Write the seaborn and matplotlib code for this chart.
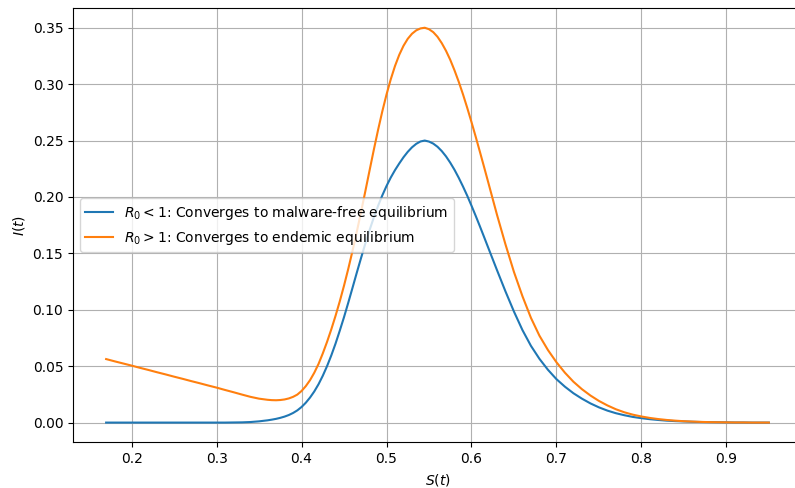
import matplotlib
matplotlib.use("Agg")
import matplotlib.pyplot as plt
import seaborn as sns
import pandas as pd

# Susceptible fraction S(t) sampled along both phase trajectories
# (denser sampling where the curves bend most)
s_values = [
    0.17, 0.18, 0.19, 0.20, 0.21, 0.22, 0.23, 0.24, 0.25, 0.26,
    0.27, 0.28, 0.29, 0.30, 0.31, 0.32, 0.33, 0.34, 0.35,
    0.360, 0.365, 0.370, 0.375, 0.380, 0.385, 0.390, 0.395, 0.400,
    0.405, 0.410, 0.415, 0.420, 0.425, 0.430, 0.435, 0.440, 0.445, 0.450,
    0.455, 0.460, 0.465, 0.470, 0.475, 0.480, 0.485, 0.490, 0.495, 0.500,
    0.505, 0.510, 0.515, 0.520, 0.525, 0.530, 0.535, 0.540, 0.545, 0.550,
    0.555, 0.560, 0.565, 0.570, 0.575, 0.580, 0.585, 0.590, 0.595, 0.600,
    0.605, 0.610, 0.615, 0.620,
    0.63, 0.64, 0.65, 0.66, 0.67, 0.68, 0.69, 0.70, 0.71, 0.72,
    0.73, 0.74, 0.75, 0.76, 0.77, 0.78, 0.79, 0.80, 0.81, 0.82,
    0.83, 0.84, 0.85, 0.86, 0.87, 0.88, 0.89, 0.90, 0.91, 0.92,
    0.93, 0.94, 0.95,
]

# Infected fraction I(t), R0 < 1 trajectory
i_malware_free = [
    0.0, 0.0, 0.0, 0.0, 0.0, 0.0, 0.0, 0.0, 0.0, 0.0,
    0.0, 0.0, 0.0, 0.0, 0.0, 0.0001, 0.0002, 0.0005, 0.0011,
    0.0020, 0.0026, 0.0033, 0.0042, 0.0053, 0.0067, 0.0085, 0.0108, 0.0138,
    0.0176, 0.0222, 0.0276, 0.0340, 0.0415, 0.0500, 0.0595, 0.0700, 0.0815, 0.0935,
    0.1063, 0.1195, 0.1328, 0.1458, 0.1585, 0.1705, 0.1817, 0.1920, 0.2013, 0.2097,
    0.2172, 0.2238, 0.2297, 0.2352, 0.2400, 0.2440, 0.2471, 0.2492, 0.2500, 0.2491,
    0.2473, 0.2445, 0.2407, 0.2360, 0.2304, 0.2241, 0.2170, 0.2093, 0.2011, 0.1923,
    0.1832, 0.1738, 0.1642, 0.1545,
    0.1352, 0.1163, 0.0984, 0.0820, 0.0680, 0.0565, 0.0468, 0.0385, 0.0318, 0.0260,
    0.0212, 0.0170, 0.0135, 0.0106, 0.0083, 0.0065, 0.0050, 0.0039, 0.0030, 0.0023,
    0.0017, 0.0013, 0.0010, 0.0007, 0.0005, 0.0004, 0.0003, 0.0002, 0.0001, 0.0001,
    0.0, 0.0, 0.0,
]

# Infected fraction I(t), R0 > 1 trajectory
i_endemic = [
    0.0563, 0.0543, 0.0524, 0.0505, 0.0485, 0.0466, 0.0446, 0.0427, 0.0407, 0.0388,
    0.0368, 0.0349, 0.0329, 0.0310, 0.0289, 0.0269, 0.0248, 0.0228, 0.0212,
    0.0202, 0.0199, 0.0198, 0.0200, 0.0205, 0.0214, 0.0228, 0.0248, 0.0280,
    0.0323, 0.0376, 0.0442, 0.0520, 0.0613, 0.0715, 0.0826, 0.0946, 0.1075, 0.1214,
    0.1363, 0.1522, 0.1690, 0.1866, 0.2048, 0.2233, 0.2416, 0.2592, 0.2757, 0.2908,
    0.3043, 0.3161, 0.3260, 0.3340, 0.3402, 0.3447, 0.3477, 0.3494, 0.3500, 0.3487,
    0.3461, 0.3420, 0.3364, 0.3296, 0.3216, 0.3123, 0.3021, 0.2910, 0.2790, 0.2664,
    0.2533, 0.2398, 0.2261, 0.2122,
    0.1843, 0.1580, 0.1335, 0.1120, 0.0928, 0.0770, 0.0643, 0.0535, 0.0442, 0.0362,
    0.0296, 0.0240, 0.0192, 0.0152, 0.0118, 0.0091, 0.0070, 0.0054, 0.0041, 0.0031,
    0.0023, 0.0017, 0.0012, 0.0009, 0.0006, 0.0004, 0.0003, 0.0002, 0.0001, 0.0001,
    0.0, 0.0, 0.0,
]

labels = [
    r"$R_0 < 1$: Converges to malware-free equilibrium",
    r"$R_0 > 1$: Converges to endemic equilibrium",
]
colors = ["#1f77b4", "#ff7f0e"]

df_free = pd.DataFrame({"S": s_values, "I": i_malware_free})
df_end = pd.DataFrame({"S": s_values, "I": i_endemic})

fig = plt.figure(figsize=(7.95, 4.88), dpi=100)
ax = fig.add_axes([0.0918, 0.0936, 0.917, 0.890])

sns.lineplot(data=df_free, x="S", y="I", color=colors[0], label=labels[0],
             linewidth=1.5, ax=ax)
sns.lineplot(data=df_end, x="S", y="I", color=colors[1], label=labels[1],
             linewidth=1.5, ax=ax)

ax.set_xlabel(r"$S(t)$")
ax.set_ylabel(r"$I(t)$")
ax.grid(True, color="#b0b0b0", linewidth=0.8)
ax.spines["right"].set_visible(False)
ax.legend(loc="center left")

fig.savefig("out.png", dpi=100)
